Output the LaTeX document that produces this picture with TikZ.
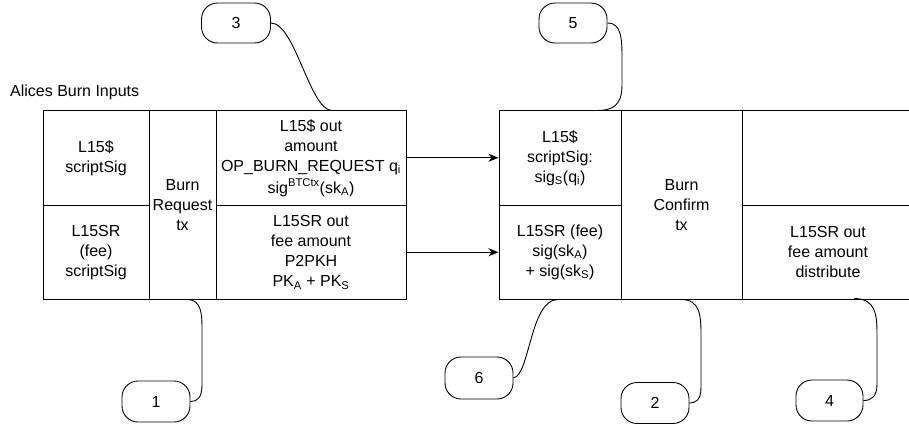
\documentclass[tikz,border=0pt]{standalone}
\usepackage{fontspec}
\setmainfont{Liberation Sans}
\usetikzlibrary{arrows.meta}
\newcommand\fs{\fontsize{16}{20}\selectfont}
\begin{document}
\begin{tikzpicture}[x=1pt,y=-1pt,
  cell/.style={draw, line width=1pt, align=center, inner sep=0pt, font=\fs},
  callout/.style={draw, line width=0.9pt, rounded corners=16pt, inner sep=0pt, font=\fs},
  link/.style={line width=0.9pt},
  flow/.style={line width=1pt, -{Stealth[length=10pt,width=8pt,inset=3pt]}}]
\useasboundingbox (0,0) rectangle (909,426);
\begin{scope}
\clip (0,0) rectangle (909,426);
% left table
\node[cell, minimum width=106pt, minimum height=94.5pt] (a1) at (96,157.75) {L15\$\\scriptSig};
\node[cell, minimum width=106pt, minimum height=94.5pt] (a2) at (96,252.25) {L15SR\\(fee)\\scriptSig};
\node[cell, minimum width=67pt, minimum height=189pt] (b) at (182.5,205) {Burn\\Request\\tx};
\node[cell, minimum width=190pt, minimum height=94.5pt] (c1) at (311,157.75) {L15\$ out\\amount\\OP\_BURN\_REQUEST q\textsubscript{i}\\[2pt]sig\textsuperscript{BTCtx}(sk\textsubscript{A})};
\node[cell, minimum width=190pt, minimum height=94.5pt] (c2) at (311,252.25) {L15SR out\\fee amount\\P2PKH\\PK\textsubscript{A} + PK\textsubscript{S}};
% right table
\node[cell, minimum width=122pt, minimum height=94.5pt] (d1) at (560,157.75) {L15\$\\scriptSig:\\sig\textsubscript{S}(q\textsubscript{i})};
\node[cell, minimum width=122pt, minimum height=94.5pt] (d2) at (560,252.25) {L15SR (fee)\\sig(sk\textsubscript{A})\\+ sig(sk\textsubscript{S})};
\node[cell, minimum width=121pt, minimum height=189pt] (e) at (681.5,205) {Burn\\Confirm\\tx};
\node[cell, minimum width=172pt, minimum height=94.5pt] (f1) at (828,157.75) {};
\node[cell, minimum width=172pt, minimum height=94.5pt] (f2) at (828,252.25) {L15SR out\\fee amount\\distribute};
% title
\node[font=\fs, anchor=base west, inner sep=0pt] (title) at (10,96) {Alices Burn Inputs};
% arrows
\draw[flow] (c1.east) -- (d1.west);
\draw[flow] (c2.east) -- (d2.west);
% callouts
\node[callout, minimum width=69pt, minimum height=40pt] (n3) at (236,23) {3};
\node[callout, minimum width=68pt, minimum height=40pt] (n5) at (573,23) {5};
\node[callout, minimum width=68pt, minimum height=41pt] (n1) at (156,401.5) {1};
\node[callout, minimum width=68pt, minimum height=42pt] (n6) at (479,378) {6};
\node[callout, minimum width=68pt, minimum height=41pt] (n2) at (655,403) {2};
\node[callout, minimum width=67pt, minimum height=41pt] (n4) at (829.5,400.5) {4};
\coordinate (t3) at (332,110.5);
\coordinate (t5) at (597,110.5);
\coordinate (t1) at (187,299.5);
\coordinate (t6) at (558,299.5);
\coordinate (t2) at (681,299.5);
\coordinate (t4) at (854,298.5);
\draw[link] (n3.east) .. controls (295,23) and (310,110.5) .. (t3);
\draw[link] (n5.east) .. controls (622,23) and (622,40) .. (622,60) -- (622,85) .. controls (622,106) and (612,110.5) .. (t5);
\draw[link] (t1) .. controls (202,299.5) and (202,315) .. (202,330) -- (202,385) .. controls (202,398) and (197,401.5) .. (n1.east);
\draw[link] (n6.east) .. controls (530,375) and (530,299.5) .. (t6);
\draw[link] (t2) .. controls (700,299.5) and (701,315) .. (701,335) -- (701,387) .. controls (701,400) and (696,403) .. (n2.east);
\draw[link] (t4) .. controls (876,298.5) and (877,315) .. (877,335) -- (877,384) .. controls (877,397) and (871,400.5) .. (n4.east);
\end{scope}
\end{tikzpicture}
\end{document}
